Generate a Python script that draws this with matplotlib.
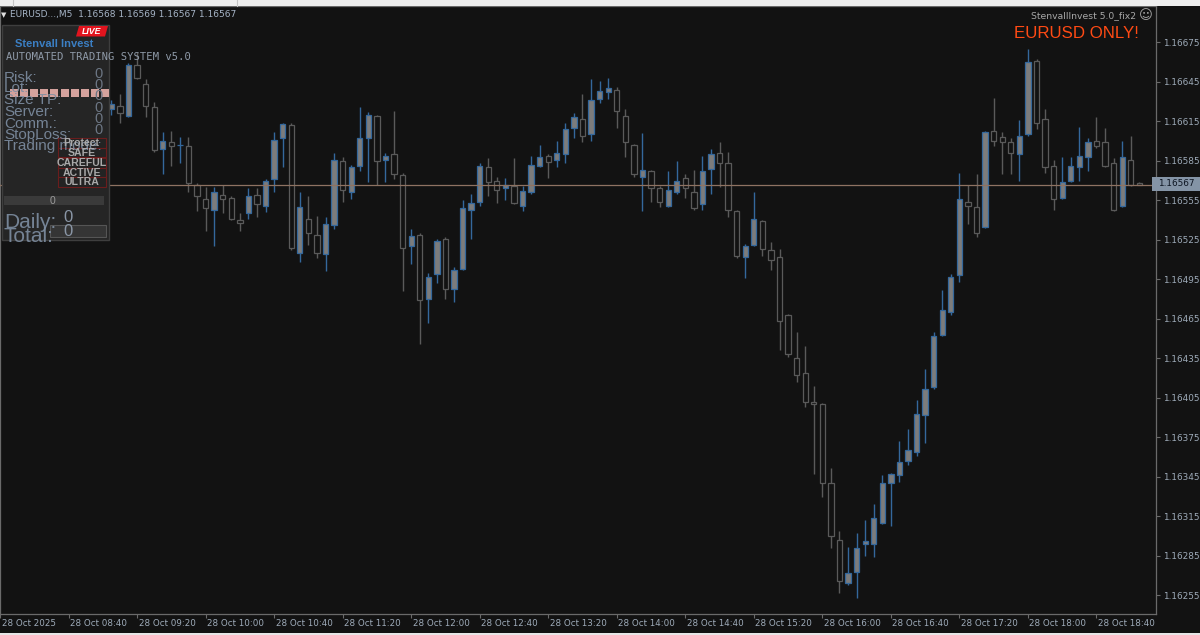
import numpy as np
import pandas as pd
import matplotlib
matplotlib.use("Agg")
import matplotlib.pyplot as plt
import matplotlib.transforms as mtransforms
from matplotlib.patches import Rectangle, Polygon

# ---------------- data (EURUSD M5, 28 Oct 2025, bars from 09:05) ----------------
first_bar = "2025-10-28 09:05"

opens = [1.16624, 1.16627, 1.16619, 1.16658, 1.16643, 1.16626, 1.16594, 1.16599, 1.16597, 1.16596,
         1.16567, 1.16556, 1.16548, 1.16559, 1.16557, 1.16540, 1.16545, 1.16559, 1.16551, 1.16571,
         1.16602, 1.16612, 1.16515, 1.16541, 1.16529, 1.16514, 1.16536, 1.16585, 1.16561, 1.16581,
         1.16602, 1.16619, 1.16586, 1.16590, 1.16574, 1.16520, 1.16529, 1.16480, 1.16499, 1.16526,
         1.16488, 1.16503, 1.16548, 1.16554, 1.16580, 1.16570, 1.16564, 1.16566, 1.16551, 1.16561,
         1.16581, 1.16589, 1.16586, 1.16590, 1.16610, 1.16617, 1.16605, 1.16632, 1.16637, 1.16639,
         1.16619, 1.16597, 1.16573, 1.16577, 1.16564, 1.16551, 1.16561, 1.16572, 1.16561, 1.16552,
         1.16579, 1.16591, 1.16583, 1.16547, 1.16512, 1.16521, 1.16539, 1.16517, 1.16512, 1.16468,
         1.16435, 1.16424, 1.16402, 1.16400, 1.16340, 1.16297, 1.16264, 1.16273, 1.16294, 1.16294,
         1.16310, 1.16340, 1.16346, 1.16357, 1.16364, 1.16392, 1.16413, 1.16453, 1.16470, 1.16498,
         1.16554, 1.16550, 1.16535, 1.16608, 1.16603, 1.16599, 1.16590, 1.16605, 1.16661, 1.16617,
         1.16581, 1.16557, 1.16570, 1.16580, 1.16588, 1.16600, 1.16599, 1.16583, 1.16551, 1.16586,
         1.16568]

highs = [1.16631, 1.16636, 1.16659, 1.16668, 1.16647, 1.16630, 1.16607, 1.16608, 1.16603, 1.16603,
         1.16568, 1.16565, 1.16565, 1.16567, 1.16558, 1.16545, 1.16564, 1.16564, 1.16571, 1.16607,
         1.16614, 1.16614, 1.16561, 1.16558, 1.16543, 1.16542, 1.16591, 1.16588, 1.16582, 1.16626,
         1.16622, 1.16620, 1.16591, 1.16623, 1.16576, 1.16533, 1.16530, 1.16500, 1.16526, 1.16527,
         1.16504, 1.16555, 1.16560, 1.16583, 1.16587, 1.16573, 1.16572, 1.16587, 1.16566, 1.16589,
         1.16597, 1.16590, 1.16600, 1.16614, 1.16621, 1.16636, 1.16647, 1.16646, 1.16648, 1.16641,
         1.16624, 1.16598, 1.16606, 1.16578, 1.16566, 1.16577, 1.16585, 1.16575, 1.16578, 1.16589,
         1.16594, 1.16599, 1.16592, 1.16548, 1.16522, 1.16561, 1.16540, 1.16523, 1.16518, 1.16469,
         1.16455, 1.16444, 1.16414, 1.16401, 1.16352, 1.16304, 1.16292, 1.16302, 1.16312, 1.16324,
         1.16346, 1.16348, 1.16372, 1.16381, 1.16403, 1.16427, 1.16455, 1.16487, 1.16499, 1.16576,
         1.16567, 1.16575, 1.16608, 1.16633, 1.16607, 1.16602, 1.16616, 1.16670, 1.16662, 1.16624,
         1.16586, 1.16588, 1.16588, 1.16611, 1.16602, 1.16618, 1.16610, 1.16587, 1.16600, 1.16604,
         1.16569]

lows = [1.16620, 1.16614, 1.16618, 1.16647, 1.16618, 1.16592, 1.16575, 1.16581, 1.16583, 1.16561,
        1.16547, 1.16532, 1.16520, 1.16545, 1.16540, 1.16532, 1.16541, 1.16542, 1.16546, 1.16561,
        1.16580, 1.16517, 1.16508, 1.16521, 1.16511, 1.16501, 1.16533, 1.16554, 1.16556, 1.16577,
        1.16569, 1.16567, 1.16569, 1.16571, 1.16486, 1.16507, 1.16446, 1.16462, 1.16492, 1.16480,
        1.16478, 1.16502, 1.16526, 1.16551, 1.16558, 1.16553, 1.16555, 1.16552, 1.16547, 1.16560,
        1.16580, 1.16572, 1.16580, 1.16583, 1.16602, 1.16599, 1.16600, 1.16629, 1.16632, 1.16610,
        1.16588, 1.16573, 1.16547, 1.16554, 1.16550, 1.16550, 1.16560, 1.16557, 1.16548, 1.16548,
        1.16560, 1.16565, 1.16542, 1.16511, 1.16496, 1.16520, 1.16513, 1.16502, 1.16441, 1.16436,
        1.16417, 1.16398, 1.16347, 1.16330, 1.16291, 1.16257, 1.16263, 1.16253, 1.16285, 1.16284,
        1.16309, 1.16308, 1.16341, 1.16354, 1.16361, 1.16371, 1.16412, 1.16452, 1.16468, 1.16493,
        1.16537, 1.16527, 1.16534, 1.16596, 1.16575, 1.16575, 1.16570, 1.16604, 1.16609, 1.16576,
        1.16548, 1.16556, 1.16569, 1.16570, 1.16577, 1.16595, 1.16580, 1.16547, 1.16550, 1.16566,
        1.16567]

closes = [1.16628, 1.16621, 1.16658, 1.16648, 1.16627, 1.16593, 1.16600, 1.16596, 1.16597, 1.16568,
          1.16558, 1.16549, 1.16561, 1.16556, 1.16541, 1.16538, 1.16558, 1.16552, 1.16570, 1.16601,
          1.16613, 1.16519, 1.16550, 1.16530, 1.16515, 1.16537, 1.16586, 1.16563, 1.16580, 1.16602,
          1.16620, 1.16585, 1.16589, 1.16575, 1.16519, 1.16528, 1.16479, 1.16497, 1.16524, 1.16488,
          1.16502, 1.16549, 1.16553, 1.16581, 1.16569, 1.16563, 1.16567, 1.16553, 1.16562, 1.16582,
          1.16588, 1.16584, 1.16591, 1.16609, 1.16618, 1.16604, 1.16631, 1.16638, 1.16640, 1.16623,
          1.16599, 1.16575, 1.16578, 1.16564, 1.16554, 1.16563, 1.16570, 1.16564, 1.16549, 1.16577,
          1.16590, 1.16583, 1.16548, 1.16513, 1.16520, 1.16541, 1.16518, 1.16510, 1.16463, 1.16438,
          1.16422, 1.16402, 1.16400, 1.16340, 1.16300, 1.16266, 1.16272, 1.16291, 1.16296, 1.16314,
          1.16340, 1.16347, 1.16356, 1.16365, 1.16393, 1.16412, 1.16452, 1.16472, 1.16497, 1.16556,
          1.16551, 1.16530, 1.16607, 1.16600, 1.16599, 1.16591, 1.16604, 1.16660, 1.16614, 1.16580,
          1.16556, 1.16569, 1.16581, 1.16589, 1.16599, 1.16596, 1.16581, 1.16548, 1.16588, 1.16567,
          1.16567]

current_price = 1.16567
header_ohlc = "1.16568 1.16569 1.16567 1.16567"

ytick_labels = ["1.16255", "1.16285", "1.16315", "1.16345", "1.16375", "1.16405", "1.16435",
                "1.16465", "1.16495", "1.16525", "1.16555", "1.16585", "1.16615", "1.16645", "1.16675"]
xtick_times = ["08:00", "08:40", "09:20", "10:00", "10:40", "11:20", "12:00", "12:40", "13:20",
               "14:00", "14:40", "15:20", "16:00", "16:40", "17:20", "18:00", "18:40"]
xtick_labels = ["28 Oct 2025", "28 Oct 08:40", "28 Oct 09:20", "28 Oct 10:00", "28 Oct 10:40",
                "28 Oct 11:20", "28 Oct 12:00", "28 Oct 12:40", "28 Oct 13:20", "28 Oct 14:00",
                "28 Oct 14:40", "28 Oct 15:20", "28 Oct 16:00", "28 Oct 16:40", "28 Oct 17:20",
                "28 Oct 18:00", "28 Oct 18:40"]

panel_labels = ["Risk:", "Lot:", "Size TP:", "Server:", "Comm.:", "StopLoss:", "Trading mode:"]
panel_values = ["0", "0", "0", "0", "0", "0"]
mode_buttons = ["Protect", "SAFE", "CAREFUL", "ACTIVE", "ULTRA"]

# ---------------- styling ----------------
BG = "#121212"
UP_EDGE = "#34689c"
UP_FILL = "#7c7c7c"
DN_EDGE = "#5a5a5a"
TXT = "#9eabb9"
FRAME = "#6a6a6a"
SANS = ["Liberation Sans", "DejaVu Sans"]

W, H = 1200, 635
fig = plt.figure(figsize=(W / 100, H / 100), dpi=100, facecolor=BG)

# chart area in pixels: x 0..1156, y 6..614 (from top)
ax = fig.add_axes([0, (H - 614) / H, 1156 / W, (614 - 6) / H], facecolor=BG)

day0 = pd.Timestamp("2025-10-28 08:00")
step = pd.Timedelta("5min")
times = pd.date_range(first_bar, periods=len(opens), freq="5min")
xi = np.asarray((times - day0) / step, dtype=float)

o = np.array(opens); h = np.array(highs); l = np.array(lows); c = np.array(closes)
up = c >= o
bw = 0.62
ax.vlines(xi[up], l[up], h[up], color=UP_EDGE, lw=1.0, zorder=2)
ax.vlines(xi[~up], l[~up], h[~up], color=DN_EDGE, lw=1.0, zorder=2)
ax.bar(xi[up], c[up] - o[up], bw, bottom=o[up], color=UP_FILL, edgecolor=UP_EDGE, lw=0.9, zorder=3)
ax.bar(xi[~up], o[~up] - c[~up], bw, bottom=c[~up], color=BG, edgecolor=DN_EDGE, lw=0.9, zorder=3)

ax.axhline(current_price, color="#8e7262", lw=0.9, zorder=4)

ax.set_xlim(0.685, 134.95)
ax.set_ylim(1.162408, 1.167026)

for s in ax.spines.values():
    s.set_color(FRAME)
    s.set_linewidth(0.9)

# y axis on right
yt = [float(v) for v in ytick_labels]
ax.yaxis.tick_right()
ax.set_yticks(yt)
ax.set_yticklabels(ytick_labels)
ax.tick_params(axis="y", length=3, width=0.8, color=FRAME, pad=2, labelsize=6.4, labelcolor=TXT)

# x axis: ticks + left-aligned labels
xt = [(pd.Timestamp("2025-10-28 " + t) - day0) / step for t in xtick_times]
ax.set_xticks(xt)
ax.tick_params(axis="x", length=3, width=0.8, color=FRAME, labelbottom=False)
trans = mtransforms.blended_transform_factory(ax.transData, ax.transAxes)
for t, lab in zip(xt, xtick_labels):
    ax.text(t, 0, lab, transform=mtransforms.offset_copy(trans, fig=fig, x=1.5, y=-10, units="dots"),
            ha="left", va="center", fontsize=6.3, color=TXT, clip_on=False)

# ---------------- overlay in pixel coordinates ----------------
ov = fig.add_axes([0, 0, 1, 1], zorder=10)
ov.set_xlim(0, W)
ov.set_ylim(H, 0)
ov.axis("off")

# window strips
ov.add_patch(Rectangle((0, 0), W, 5.5, color="#eeeeee", lw=0))
ov.plot([13, 13], [0, 5.5], color="#c4c4c4", lw=0.8)
ov.plot([237, 237], [0, 5.5], color="#c4c4c4", lw=0.8)
ov.add_patch(Rectangle((0, 632.5), W, 3, color="#e6e6e6", lw=0))

# header
ov.text(0.5, 15, "\u25BC", fontsize=5, color="#e0e0e0", ha="left", va="center")
ov.text(10, 15, "EURUSD...,M5  " + header_ohlc, fontsize=6.5, color="#a6b4c6", ha="left", va="center")

ov.text(1136, 16, "StenvallInvest 5.0_fix2", fontsize=6.7, color="#a8a8a8", ha="right", va="center")
ov.text(1146, 16, "\u263A", fontsize=9.5, color="#a8a8a8", ha="center", va="center")
ov.text(1139, 34, "EURUSD ONLY!", fontsize=12.2, color="#ff4a14", ha="right", va="center", family=SANS)

# current price tag
ov.add_patch(Rectangle((1152, 177), 48, 13.5, color="#8494a6", lw=0))
ov.text(1176, 184, f"{current_price:.5f}", fontsize=6.4, color="#0c1420", ha="center", va="center")

# ---------------- info panel ----------------
ov.add_patch(Rectangle((2, 25), 106.5, 215, facecolor="#252525", edgecolor="#3e3e3e", lw=1.0))
ov.add_patch(Polygon([[79, 26], [108, 26], [105, 36.5], [76, 36.5]], closed=True,
                     facecolor="#e2141e", edgecolor="none"))
ov.text(92, 31.5, "LIVE", fontsize=6.3, color="white", fontweight="bold", style="italic",
        ha="center", va="center", family=SANS)
ov.text(54, 44, "Stenvall Invest", fontsize=8.0, color="#3b7fc4", ha="center", va="center",
        family=SANS, fontweight="bold")
ov.text(6, 57, "AUTOMATED TRADING SYSTEM v5.0", fontsize=7.6, color="#8f9aa8", ha="left",
        va="center", family="DejaVu Sans Mono")

LAB = "#7e8ea2"
lab_y = [78, 88.5, 100.5, 112.5, 124, 135, 146]
for lab, y in zip(panel_labels, lab_y):
    ov.text(4, y, lab, fontsize=11, color=LAB, alpha=0.9, ha="left", va="center", family=SANS)
val_y = [73.5, 85, 96.5, 108, 119, 130]
for v, y in zip(panel_values, val_y):
    ov.text(103, y, v, fontsize=10.5, color="#6c7684", ha="right", va="center", family=SANS)

# pink progress squares
for i in range(10):
    ov.add_patch(Rectangle((10 + i * 10.1, 89), 8, 8, facecolor="#d4a29d", edgecolor="none"))

# mode buttons
btn_top = [138, 147.5, 158, 167.5, 177]
for name, y0 in zip(mode_buttons, btn_top):
    ov.add_patch(Rectangle((57.5, y0), 48, 9.5, facecolor="#232323", edgecolor="#6a1d1d", lw=0.8))
    ov.text(81.5, y0 + 5, name, fontsize=7.6, color="#a9a9a9", fontweight="bold", ha="center",
            va="center", family=SANS)

# bar with zero
ov.add_patch(Rectangle((4, 196), 100, 9, facecolor="#3a3a3a", edgecolor="none"))
ov.text(53, 200.5, "0", fontsize=7.5, color="#9a9a9a", ha="center", va="center", family=SANS)

# daily / total
ov.add_patch(Rectangle((50, 225), 56, 12, facecolor="#353535", edgecolor="#555555", lw=0.8))
ov.text(4, 222, "Daily:", fontsize=15, color=LAB, alpha=0.9, ha="left", va="center", family=SANS)
ov.text(4, 237, "Total:", fontsize=15, color=LAB, alpha=0.9, ha="left", va="center", family=SANS)
ov.text(68, 217, "0", fontsize=12, color="#8a96a6", ha="center", va="center", family=SANS)
ov.text(68, 231, "0", fontsize=12, color="#8a96a6", ha="center", va="center", family=SANS)

fig.savefig("out.png", dpi=100, facecolor=BG)
